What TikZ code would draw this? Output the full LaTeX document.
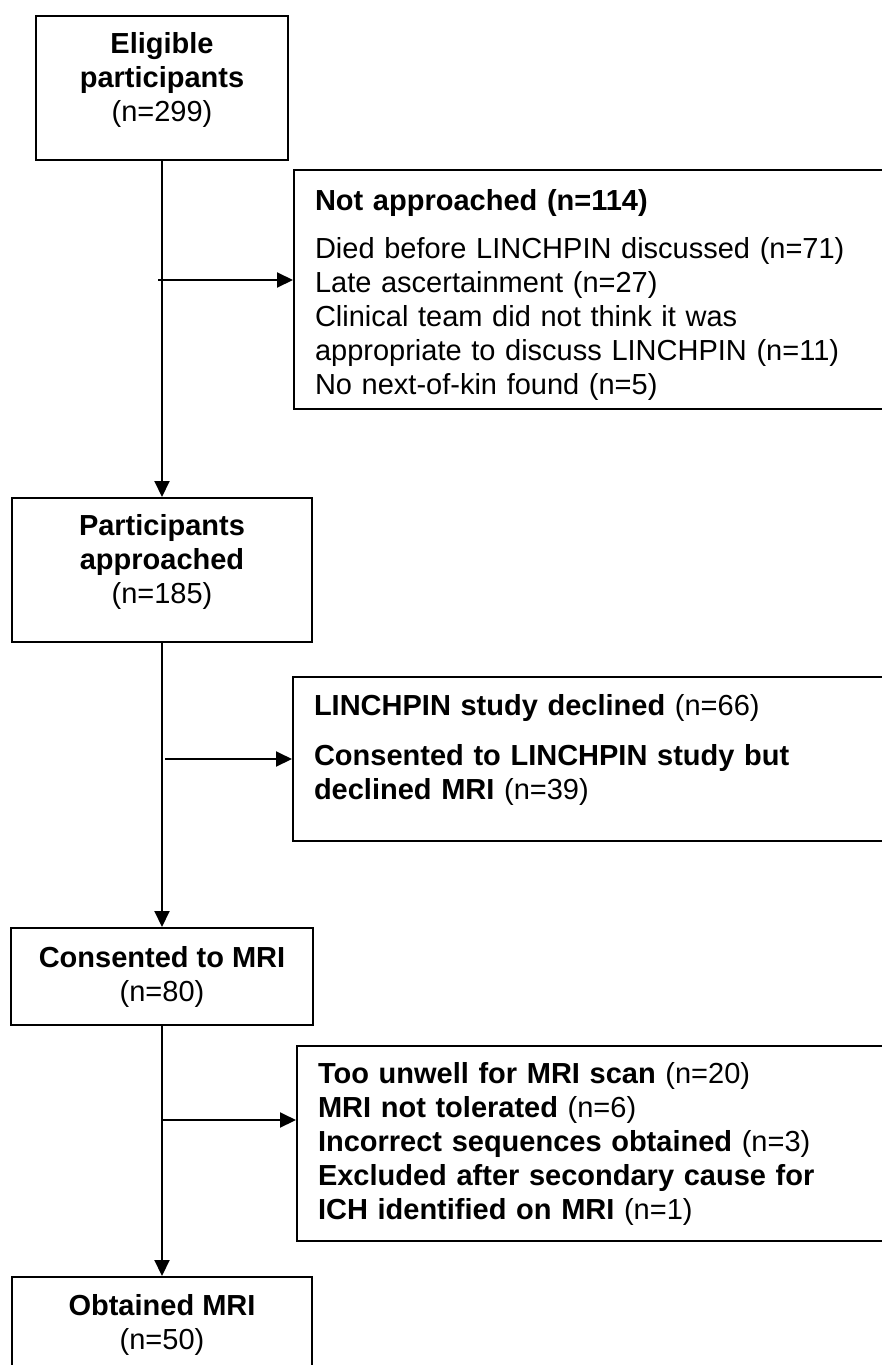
\documentclass[tikz,border=0pt]{standalone}
\usepackage{fontspec}
\setmainfont{Liberation Sans}
\usetikzlibrary{arrows.meta}

\tikzset{
  mainbox/.style={draw, line width=2pt, anchor=north west, align=center, inner sep=0pt},
  sidebox/.style={draw, line width=2pt, anchor=north west, align=left, inner xsep=21pt, inner ysep=0pt, text width=580pt},
  flow/.style={line width=2pt, -{Triangle[length=16pt,width=15pt]}}
}

\begin{document}
\begin{tikzpicture}[x=1pt, y=-1pt, font=\fontsize{29pt}{34pt}\selectfont]

	\useasboundingbox (0,0) rectangle (882,1365);
	\clip (0,0) rectangle (882,1365);

	% Main flow
	\node[mainbox, minimum width=252pt, minimum height=144pt, text depth=23pt] (eligible) at (35,15) {\textbf{Eligible}\\\textbf{participants}\\(n=299)};
	\node[mainbox, minimum width=300pt, minimum height=144pt, text depth=22pt] (approached) at (11,497) {\textbf{Participants}\\\textbf{approached}\\(n=185)};
	\node[mainbox, minimum width=302pt, minimum height=97pt] (consented) at (10,927) {\textbf{Consented to MRI}\\(n=80)};
	\node[mainbox, minimum width=300pt, minimum height=96pt] (obtained) at (11,1276) {\textbf{Obtained MRI}\\(n=50)};

	% Exclusions
	\node[sidebox, minimum height=239pt, text height=31pt] (notapproached) at (293,169) {\textbf{Not approached (n=114)}\\[14pt]Died before LINCHPIN discussed (n=71)\\Late ascertainment (n=27)\\Clinical team did not think it was\\appropriate to discuss LINCHPIN (n=11)\\No next-of-kin found (n=5)};
	\node[sidebox, minimum height=164pt, text depth=108pt] (declined) at (292,676) {\textbf{LINCHPIN study declined} (n=66)\\[16pt]\textbf{Consented to LINCHPIN study but}\\\textbf{declined MRI} (n=39)};
	\node[sidebox, minimum height=195pt] (unwell) at (296,1045) {\textbf{Too unwell for MRI scan} (n=20)\\\textbf{MRI not tolerated} (n=6)\\\textbf{Incorrect sequences obtained} (n=3)\\\textbf{Excluded after secondary cause for}\\\textbf{ICH identified on MRI} (n=1)};

	% Arrows
	\draw[flow] (eligible) -- (approached);
	\draw[flow] (approached) -- (consented);
	\draw[flow] (consented) -- (obtained);

	\coordinate (split1) at (158,280);
	\coordinate (split2) at (165,759);
	\coordinate (split3) at (161,1120);
	\draw[flow] (split1) -- (split1 -| notapproached.west);
	\draw[flow] (split2) -- (split2 -| declined.west);
	\draw[flow] (split3) -- (split3 -| unwell.west);

\end{tikzpicture}
\end{document}
